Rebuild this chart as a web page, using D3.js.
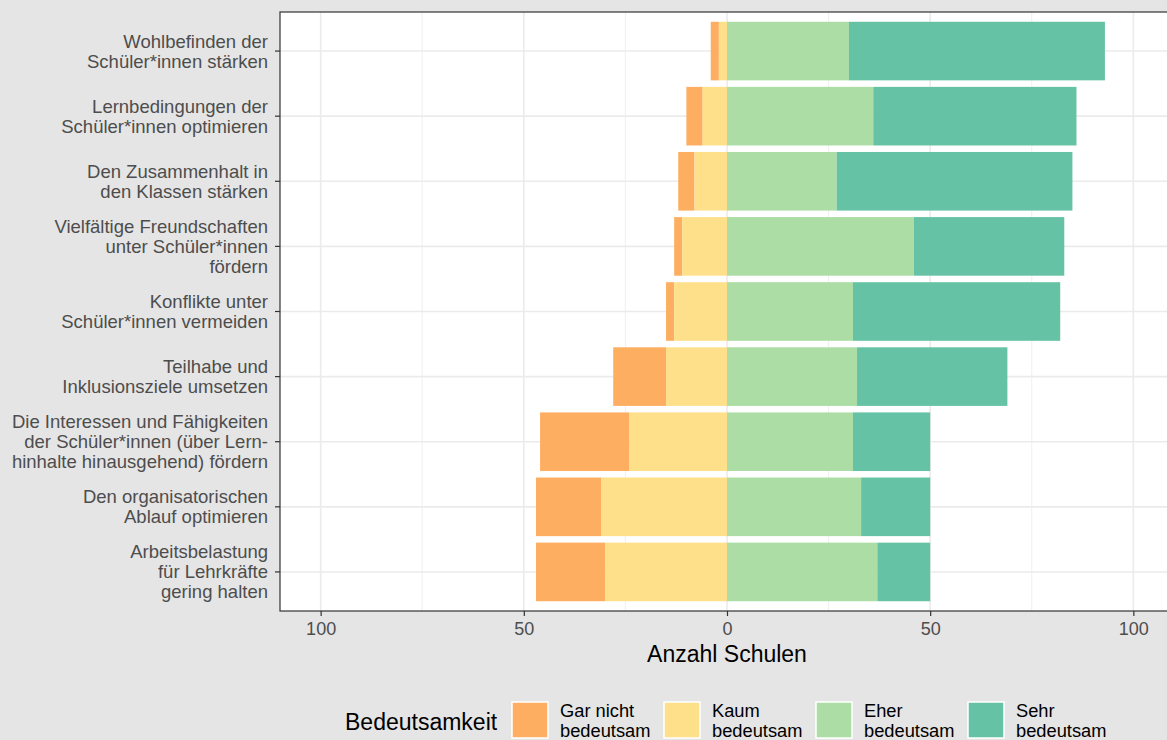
<!DOCTYPE html>
<html>
<head>
<meta charset="utf-8">
<script src="https://cdn.jsdelivr.net/npm/d3@7"></script>
<style>
  body { margin: 0; background: #e5e5e5; }
  svg { display: block; font-family: "Liberation Sans", Arial, sans-serif; }
</style>
</head>
<body>
<div id="chart"></div>
<script>
// category labels, one array of lines each
let categories = [
    ['Wohlbefinden der', 'Schüler*innen stärken'],
    ['Lernbedingungen der', 'Schüler*innen optimieren'],
    ['Den Zusammenhalt in', 'den Klassen stärken'],
    ['Vielfältige Freundschaften', 'unter Schüler*innen', 'fördern'],
    ['Konflikte unter', 'Schüler*innen vermeiden'],
    ['Teilhabe und', 'Inklusionsziele umsetzen'],
    ['Die Interessen und Fähigkeiten', 'der Schüler*innen (über Lern-', 'hinhalte hinausgehend) fördern'],
    ['Den organisatorischen', 'Ablauf optimieren'],
    ['Arbeitsbelastung', 'für Lehrkräfte', 'gering halten']
];
let garNicht = [2, 4, 4, 2, 2, 13, 22, 16, 17];
let kaum = [2, 6, 8, 11, 13, 15, 24, 31, 30];
let eher = [30, 36, 27, 46, 31, 32, 31, 33, 37];
let sehr = [63, 50, 58, 37, 51, 37, 19, 17, 13];

let levels = ['Gar nicht\nbedeutsam', 'Kaum\nbedeutsam', 'Eher\nbedeutsam', 'Sehr\nbedeutsam'];
let colors = ['#fdae61', '#fee08b', '#abdda4', '#66c2a5'];
let xTicks = [-100, -50, 0, 50, 100];
let xMinor = [-75, -25, 25, 75];

let W = 1167, H = 740;
let margin = {top: 12, left: 280, bottom: 129};
let panelRight = 1174;

let svg = d3.select('#chart').append('svg')
    .attr('width', W)
    .attr('height', H);

svg.append('rect').attr('width', W).attr('height', H).attr('fill', '#e5e5e5');

let x = d3.scaleLinear()
    .domain([-110, 110])
    .range([margin.left, panelRight]);

let y = d3.scaleBand()
    .domain(d3.range(categories.length))
    .range([margin.top, H - margin.bottom])
    .paddingInner(0.1)
    .paddingOuter(0.15);

// panel
svg.append('rect')
    .attr('x', margin.left).attr('y', margin.top)
    .attr('width', panelRight - margin.left)
    .attr('height', H - margin.bottom - margin.top)
    .attr('fill', '#ffffff');

let grid = svg.append('g');
grid.selectAll('.minor')
    .data(xMinor)
    .enter().append('line')
    .attr('x1', d => x(d)).attr('x2', d => x(d))
    .attr('y1', margin.top).attr('y2', H - margin.bottom)
    .attr('stroke', '#ebebeb').attr('stroke-width', 0.8);
grid.selectAll('.major')
    .data(xTicks)
    .enter().append('line')
    .attr('x1', d => x(d)).attr('x2', d => x(d))
    .attr('y1', margin.top).attr('y2', H - margin.bottom)
    .attr('stroke', '#ebebeb').attr('stroke-width', 1.6);
grid.selectAll('.hmajor')
    .data(d3.range(categories.length))
    .enter().append('line')
    .attr('x1', margin.left).attr('x2', panelRight)
    .attr('y1', d => y(d) + y.bandwidth() / 2)
    .attr('y2', d => y(d) + y.bandwidth() / 2)
    .attr('stroke', '#ebebeb').attr('stroke-width', 1.6);

// stacked segments: [start, end] per level
let segs = [];
categories.forEach(function(c, i) {
    segs.push({i: i, k: 0, x0: -(kaum[i] + garNicht[i]), x1: -kaum[i]});
    segs.push({i: i, k: 1, x0: -kaum[i], x1: 0});
    segs.push({i: i, k: 2, x0: 0, x1: eher[i]});
    segs.push({i: i, k: 3, x0: eher[i], x1: eher[i] + sehr[i]});
});

svg.append('g').selectAll('rect')
    .data(segs)
    .enter().append('rect')
    .attr('x', d => x(d.x0))
    .attr('width', d => x(d.x1) - x(d.x0))
    .attr('y', d => y(d.i))
    .attr('height', y.bandwidth())
    .attr('fill', d => colors[d.k]);

// panel border
svg.append('rect')
    .attr('x', margin.left).attr('y', margin.top)
    .attr('width', panelRight - margin.left)
    .attr('height', H - margin.bottom - margin.top)
    .attr('fill', 'none')
    .attr('stroke', '#333333').attr('stroke-width', 1.2);

// x axis
let xAxis = svg.append('g')
    .attr('transform', 'translate(0,' + (H - margin.bottom) + ')')
    .call(d3.axisBottom(x).tickValues(xTicks).tickSize(5).tickPadding(6)
        .tickFormat(d => Math.abs(d)));
xAxis.select('.domain').remove();
xAxis.selectAll('line').attr('stroke', '#333333').attr('stroke-width', 1.2);
xAxis.selectAll('text').attr('fill', '#4d4d4d').style('font-size', '18px')
    .style('font-family', '"Liberation Sans", Arial, sans-serif');

svg.append('text')
    .attr('x', x(0)).attr('y', 662)
    .attr('text-anchor', 'middle')
    .style('font-size', '23px')
    .attr('fill', '#000')
    .text('Anzahl Schulen');

// y axis
let yAxis = svg.append('g');
categories.forEach(function(lines, i) {
    let cy = y(i) + y.bandwidth() / 2;
    yAxis.append('line')
        .attr('x1', margin.left - 5).attr('x2', margin.left)
        .attr('y1', cy).attr('y2', cy)
        .attr('stroke', '#333333').attr('stroke-width', 1.2);
    let lh = 20;
    let t = yAxis.append('text')
        .attr('text-anchor', 'end')
        .attr('fill', '#4d4d4d')
        .style('font-size', '18.5px');
    lines.forEach(function(l, j) {
        t.append('tspan')
            .attr('x', margin.left - 12)
            .attr('y', cy + (j - (lines.length - 1) / 2) * lh)
            .attr('dy', '0.35em')
            .text(l);
    });
});

// legend
let legend = svg.append('g');
legend.append('text')
    .attr('x', 345).attr('y', 722).attr('dy', '0.35em')
    .style('font-size', '23px')
    .attr('fill', '#000')
    .text('Bedeutsamkeit');

let keyX = [512, 664, 816, 968];
levels.forEach(function(lab, k) {
    legend.append('rect')
        .attr('x', keyX[k]).attr('y', 702)
        .attr('width', 36).attr('height', 36)
        .attr('fill', colors[k])
        .attr('stroke', '#ffffff').attr('stroke-width', 1.5);
    let t = legend.append('text')
        .attr('fill', '#000')
        .style('font-size', '18.3px');
    lab.split('\n').forEach(function(l, j) {
        t.append('tspan')
            .attr('x', keyX[k] + 48)
            .attr('y', 711 + j * 20)
            .attr('dy', '0.35em')
            .text(l);
    });
});
</script>
</body>
</html>
